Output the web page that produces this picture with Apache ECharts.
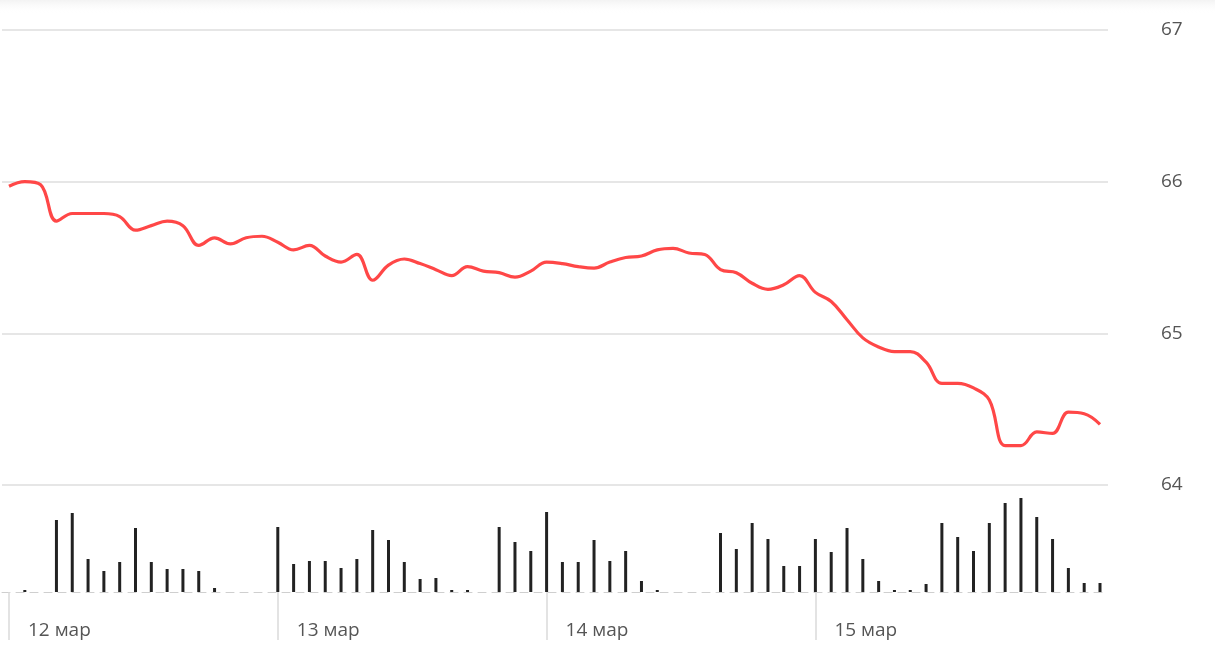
<!DOCTYPE html>
<html>
<head>
<meta charset="utf-8">
<style>
    html, body { margin: 0; padding: 0; background: #fff; }
    #chart { width: 1215px; height: 648px; }
</style>
<script src="https://cdn.jsdelivr.net/npm/echarts@6/dist/echarts.min.js"></script>
</head>
<body>
<div id="chart"></div>
<script>
/* данные: 70 точек, 17 на день (последний день 19) */
var dayLabels = ["12 мар", "13 мар", "14 мар", "15 мар"];
var dayStarts = [0, 17, 34, 51];
var priceTicks = [64, 65, 66, 67];

// цена
var price = [
    65.97, 66.00, 65.98, 65.74, 65.79, 65.79, 65.79, 65.77, 65.68, 65.71,
    65.74, 65.71, 65.58, 65.63, 65.59, 65.63, 65.64, 65.60, 65.55, 65.58,
    65.51, 65.47, 65.52, 65.35, 65.45, 65.49, 65.46, 65.42, 65.38, 65.44,
    65.41, 65.40, 65.37, 65.41, 65.47, 65.46, 65.44, 65.43, 65.47, 65.50,
    65.51, 65.55, 65.56, 65.53, 65.52, 65.42, 65.40, 65.33, 65.29, 65.32,
    65.38, 65.27, 65.21, 65.09, 64.97, 64.91, 64.88, 64.88, 64.81, 64.67,
    64.67, 64.64, 64.56, 64.26, 64.26, 64.35, 64.34, 64.48, 64.47, 64.40
];

// объём
var volume = [
    0, 2, 0, 72, 79, 33, 21, 30, 64, 30,
    23, 23, 21, 4, 0, 0, 0, 65, 28, 31,
    31, 24, 33, 62, 52, 30, 13, 14, 2, 2,
    0, 65, 50, 41, 80, 30, 30, 52, 31, 41,
    11, 2, 0, 0, 0, 59, 43, 69, 53, 26,
    26, 53, 40, 64, 33, 11, 2, 2, 8, 69,
    55, 41, 69, 89, 94, 75, 53, 24, 9, 9
];

var linePts = price.map(function (v, i) { return [i, v]; });
var barPts = volume.map(function (v, i) { return [i, v]; });

var xMin = -0.443, xMax = 69.506;
var font = "'Open Sans', 'DejaVu Sans', sans-serif";

var myChart = echarts.init(document.getElementById('chart'));
var option = {
    animation: false,
    backgroundColor: '#fff',
    //верхняя тень
    graphic: [{
        type: 'rect',
        shape: { x: 0, y: 0, width: 1215, height: 14 },
        style: {
            fill: new echarts.graphic.LinearGradient(0, 0, 0, 1, [
                { offset: 0, color: '#f3f3f3' },
                { offset: 1, color: 'rgba(255,255,255,0)' }
            ])
        },
        silent: true
    }],
    grid: [
        { left: 2, right: 107, top: 30, bottom: 163 },
        { left: 2, right: 107, top: 492, bottom: 56 }
    ],
    xAxis: [
        {
            gridIndex: 0, type: 'value', min: xMin, max: xMax,
            show: false
        },
        {
            gridIndex: 1, type: 'value', min: xMin, max: xMax,
            splitLine: { show: false },
            axisLine: { show: true, lineStyle: { color: '#cfcfcf', type: [8, 6], width: 1 } },
            axisTick: {
                show: true, customValues: dayStarts, length: 48,
                lineStyle: { color: '#dadada', width: 1.5 }
            },
            axisLabel: {
                customValues: dayStarts,
                formatter: function (v) {
                    return dayLabels[dayStarts.indexOf(Math.round(v))] || '';
                },
                align: 'left',
                padding: [0, 0, 0, 19],
                margin: 29,
                color: '#555',
                fontFamily: font,
                fontSize: 19
            }
        }
    ],
    yAxis: [
        {
            gridIndex: 0, type: 'value', position: 'right',
            min: 64, max: 67, interval: 1,
            axisLine: { show: false },
            axisTick: { show: false },
            splitLine: { lineStyle: { color: '#e6e6e6', width: 2 } },
            axisLabel: {
                margin: 53,
                color: '#555',
                fontFamily: font,
                fontSize: 19,
                formatter: function (v) { return priceTicks.indexOf(v) >= 0 ? String(v) : ''; }
            }
        },
        {
            gridIndex: 1, type: 'value', min: 0, max: 100,
            show: false,
            splitLine: { show: false }
        }
    ],
    series: [
        {
            type: 'line',
            xAxisIndex: 0, yAxisIndex: 0,
            data: linePts,
            smooth: 0.4,
            showSymbol: false,
            lineStyle: { color: '#ff4747', width: 3.2 },
            z: 3
        },
        {
            type: 'bar',
            xAxisIndex: 1, yAxisIndex: 1,
            data: barPts,
            barWidth: 3,
            itemStyle: { color: '#222' }
        }
    ]
};
// отрисовка
myChart.setOption(option);
</script>
</body>
</html>
